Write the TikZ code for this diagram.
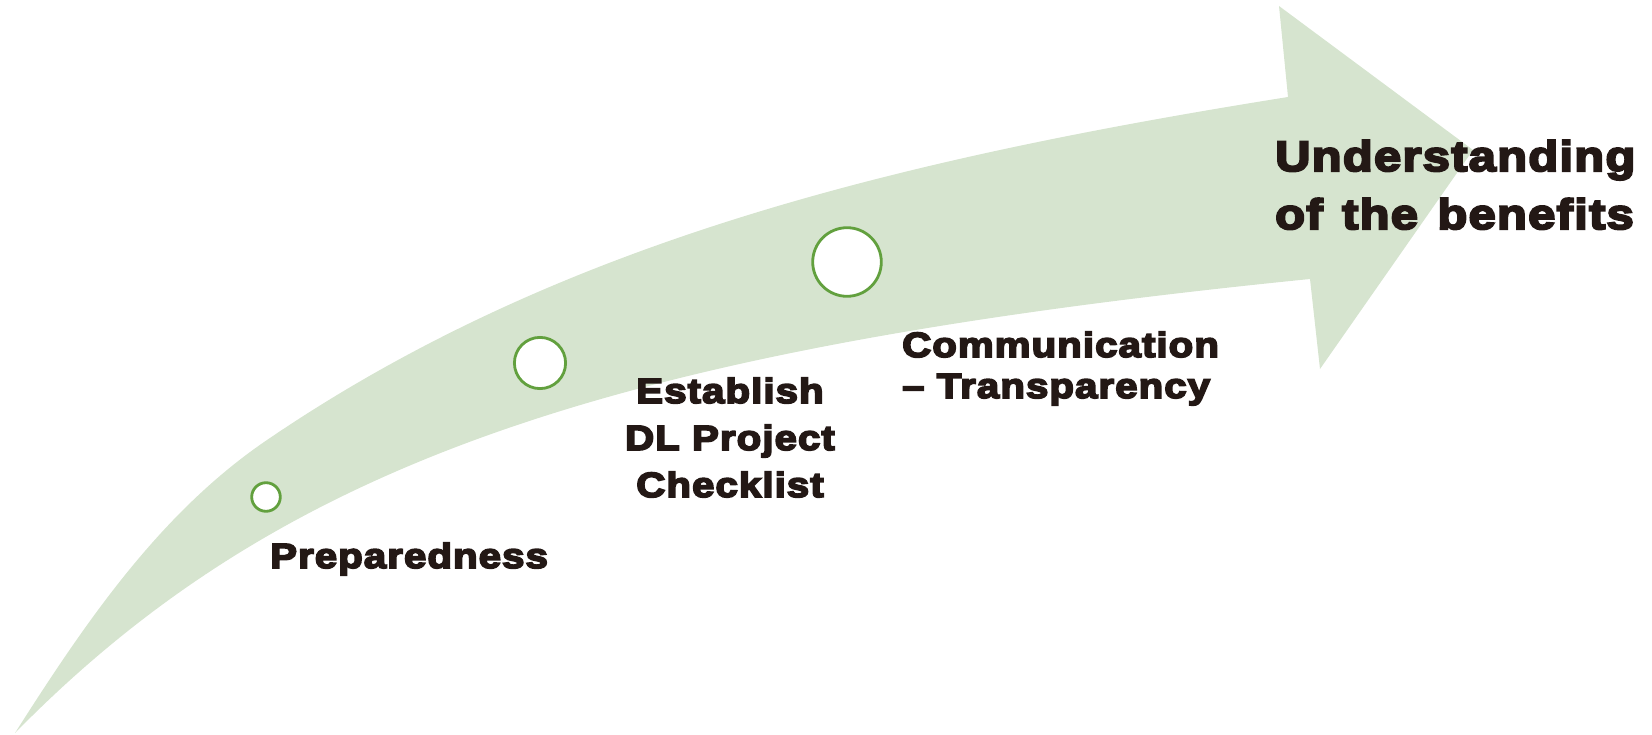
\documentclass[tikz,border=0pt]{standalone}
\usepackage{fontspec}
\newfontfamily\lblfont[FakeBold=5,FakeStretch=1.15,LetterSpace=3]{Liberation Sans Bold}
\definecolor{shaftgreen}{RGB}{214,228,207}
\definecolor{ringgreen}{RGB}{98,160,62}
\definecolor{inkbrown}{RGB}{35,24,21}
\begin{document}
\begin{tikzpicture}[x=1bp,y=-1bp,
  ring/.style={circle,draw=ringgreen,fill=white,line width=2.8bp,inner sep=0pt},
  lbl/.style={inner sep=0pt,text=inkbrown,font=\lblfont}]
\useasboundingbox (0,0) rectangle (1652,735);
% big curved arrow
\fill[shaftgreen] (15,733) .. controls (85,623) and (159.5,513) .. (267,440)
  .. controls (556,243) and (893,160) .. (1288,97)
  -- (1279,6) -- (1473,150) -- (1320,369) -- (1310,279)
  .. controls (613,349) and (281,462) .. (15,733) -- cycle;
% milestones
\node[ring,minimum size=28.6bp] (m1) at (266,497) {};
\node[ring,minimum size=51.2bp] (m2) at (540,363) {};
\node[ring,minimum size=68.6bp] (m3) at (847,262) {};
% labels
\node[lbl,anchor=base west] (prep) at (270,568) {\fontsize{35bp}{47bp}\selectfont Preparedness};
\node[lbl,anchor=base] (est) at (730,403) {\fontsize{35bp}{47bp}\selectfont\begin{tabular}[t]{@{}c@{}}Establish\\DL Project\\Checklist\end{tabular}};
\node[lbl,anchor=base west] (comm) at (902,357) {\fontsize{35bp}{41bp}\selectfont\begin{tabular}[t]{@{}l@{}}Communication\\– Transparency\end{tabular}};
\node[lbl,anchor=base west] (und) at (1275,171) {\fontsize{42.5bp}{58bp}\selectfont\spaceskip=19.5bp\relax\begin{tabular}[t]{@{}l@{}}Understanding\\of the benefits\end{tabular}};
\end{tikzpicture}
\end{document}
